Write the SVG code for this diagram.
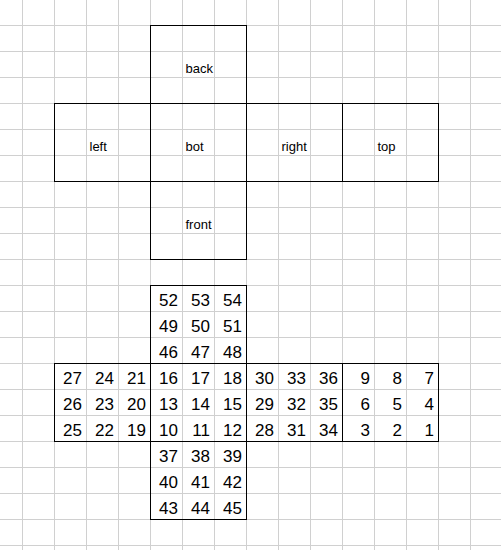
<svg xmlns="http://www.w3.org/2000/svg" width="501" height="550" viewBox="0 0 501 550">
<style>
.g{stroke:#d0d0d0;stroke-width:1;fill:none}
.b{stroke:#000;stroke-width:1;fill:none}
.l{font-family:"Liberation Sans",Arial,sans-serif;font-size:13px;fill:#000}
.n{font-family:"Liberation Sans",Arial,sans-serif;font-size:17px;fill:#000;text-anchor:end}
</style>
<rect x="0" y="0" width="501" height="550" fill="#fff"/>
<g id="grid" class="g">
<path d="M22.5 0V550M54.5 0V550M86.5 0V550M118.5 0V550M150.5 0V550M182.5 0V550M214.5 0V550M246.5 0V550M278.5 0V550M310.5 0V550M342.5 0V550M374.5 0V550M406.5 0V550M438.5 0V550M470.5 0V550"/>
<path d="M0 25.5H501M0 51.5H501M0 77.5H501M0 103.5H501M0 129.5H501M0 155.5H501M0 181.5H501M0 207.5H501M0 233.5H501M0 259.5H501M0 285.5H501M0 311.5H501M0 337.5H501M0 363.5H501M0 389.5H501M0 415.5H501M0 441.5H501M0 467.5H501M0 493.5H501M0 519.5H501M0 545.5H501"/>
</g>
<g id="net-labels">
<g id="back"><rect class="b" x="150.5" y="25.5" width="96" height="78"/><text class="l" x="185.5" y="72.5">back</text></g>
<g id="left"><rect class="b" x="54.5" y="103.5" width="96" height="78"/><text class="l" x="89.5" y="150.5">left</text></g>
<g id="bot"><rect class="b" x="150.5" y="103.5" width="96" height="78"/><text class="l" x="185.5" y="150.5">bot</text></g>
<g id="right"><rect class="b" x="246.5" y="103.5" width="96" height="78"/><text class="l" x="281.5" y="150.5">right</text></g>
<g id="top"><rect class="b" x="342.5" y="103.5" width="96" height="78"/><text class="l" x="377.5" y="150.5">top</text></g>
<g id="front"><rect class="b" x="150.5" y="181.5" width="96" height="78"/><text class="l" x="185.5" y="228.5">front</text></g>
</g>
<g id="net-numbers">
<g id="num-top"><rect class="b" x="150.5" y="285.5" width="96" height="78"/>
<text class="n" x="178" y="306">52</text><text class="n" x="210" y="306">53</text><text class="n" x="242" y="306">54</text>
<text class="n" x="178" y="332">49</text><text class="n" x="210" y="332">50</text><text class="n" x="242" y="332">51</text>
<text class="n" x="178" y="358">46</text><text class="n" x="210" y="358">47</text><text class="n" x="242" y="358">48</text>
</g>
<g id="num-left"><rect class="b" x="54.5" y="363.5" width="96" height="78"/>
<text class="n" x="82" y="384">27</text><text class="n" x="114" y="384">24</text><text class="n" x="146" y="384">21</text>
<text class="n" x="82" y="410">26</text><text class="n" x="114" y="410">23</text><text class="n" x="146" y="410">20</text>
<text class="n" x="82" y="436">25</text><text class="n" x="114" y="436">22</text><text class="n" x="146" y="436">19</text>
</g>
<g id="num-bot"><rect class="b" x="150.5" y="363.5" width="96" height="78"/>
<text class="n" x="178" y="384">16</text><text class="n" x="210" y="384">17</text><text class="n" x="242" y="384">18</text>
<text class="n" x="178" y="410">13</text><text class="n" x="210" y="410">14</text><text class="n" x="242" y="410">15</text>
<text class="n" x="178" y="436">10</text><text class="n" x="210" y="436">11</text><text class="n" x="242" y="436">12</text>
</g>
<g id="num-right"><rect class="b" x="246.5" y="363.5" width="96" height="78"/>
<text class="n" x="274" y="384">30</text><text class="n" x="306" y="384">33</text><text class="n" x="338" y="384">36</text>
<text class="n" x="274" y="410">29</text><text class="n" x="306" y="410">32</text><text class="n" x="338" y="410">35</text>
<text class="n" x="274" y="436">28</text><text class="n" x="306" y="436">31</text><text class="n" x="338" y="436">34</text>
</g>
<g id="num-topface"><rect class="b" x="342.5" y="363.5" width="96" height="78"/>
<text class="n" x="370" y="384">9</text><text class="n" x="402" y="384">8</text><text class="n" x="434" y="384">7</text>
<text class="n" x="370" y="410">6</text><text class="n" x="402" y="410">5</text><text class="n" x="434" y="410">4</text>
<text class="n" x="370" y="436">3</text><text class="n" x="402" y="436">2</text><text class="n" x="434" y="436">1</text>
</g>
<g id="num-front"><rect class="b" x="150.5" y="441.5" width="96" height="78"/>
<text class="n" x="178" y="462">37</text><text class="n" x="210" y="462">38</text><text class="n" x="242" y="462">39</text>
<text class="n" x="178" y="488">40</text><text class="n" x="210" y="488">41</text><text class="n" x="242" y="488">42</text>
<text class="n" x="178" y="514">43</text><text class="n" x="210" y="514">44</text><text class="n" x="242" y="514">45</text>
</g>
</g>
<g id="connectors"/>
</svg>
